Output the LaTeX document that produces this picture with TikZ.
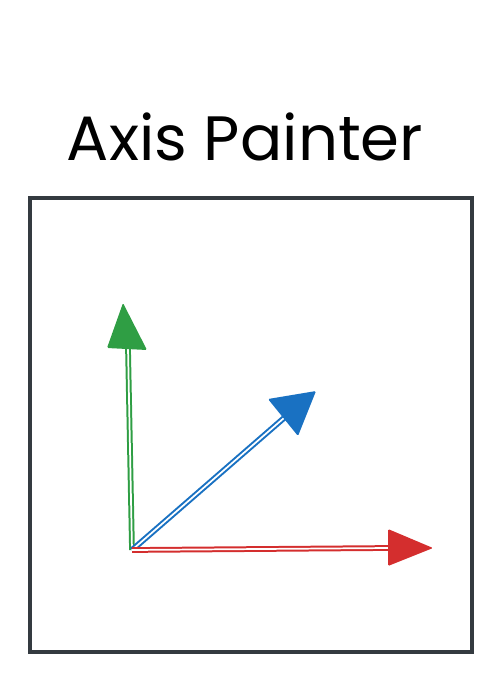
\documentclass[tikz,border=0pt]{standalone}
\usepackage{fontspec}
\setmainfont{Poppins}
\usetikzlibrary{positioning, calc}

\definecolor{frameclr}{HTML}{343A40}
\definecolor{xclr}{HTML}{D42E2E}
\definecolor{yclr}{HTML}{2F9E44}
\definecolor{zclr}{HTML}{1971C2}

\begin{document}
\begin{tikzpicture}[
    x=0.75pt, y=-0.75pt,
    frame/.style={draw=frameclr, line width=2.4pt},
    shaft/.style={line width=1.5pt, double=white, double distance=1.3pt},
    title/.style={font=\fontsize{47}{49}\selectfont, inner sep=0pt},
  ]
  \useasboundingbox (0,0) rectangle (502,682);

  % title and canvas
  \node[title, anchor=base] (title) at (245,160) {Axis Painter};
  \draw[frame] (30,198) rectangle (472,652);

  % origin and arrow points
  \coordinate (o) at (132,550);
  \coordinate (ybase) at (128,348);
  \coordinate (ytip) at (123,303);
  \coordinate (zbase) at (284,418);
  \coordinate (ztip) at (316,391);
  \coordinate (xbase) at (389,548);
  \coordinate (xtip) at (433,548);

  % y axis
  \draw[shaft, yclr] (o) -- (ybase);
  \fill[yclr, rounded corners=1pt] (ytip) -- (107,348) -- (147,350) -- cycle;
  % z axis
  \draw[shaft, zclr] (o) -- (zbase);
  \fill[zclr, rounded corners=1pt] (ztip) -- (268,399) -- (298,436) -- cycle;
  % x axis
  \draw[shaft, xclr] (o) -- (xbase);
  \fill[xclr, rounded corners=1pt] (xtip) -- (388,529) -- (388,566) -- cycle;
\end{tikzpicture}
\end{document}
